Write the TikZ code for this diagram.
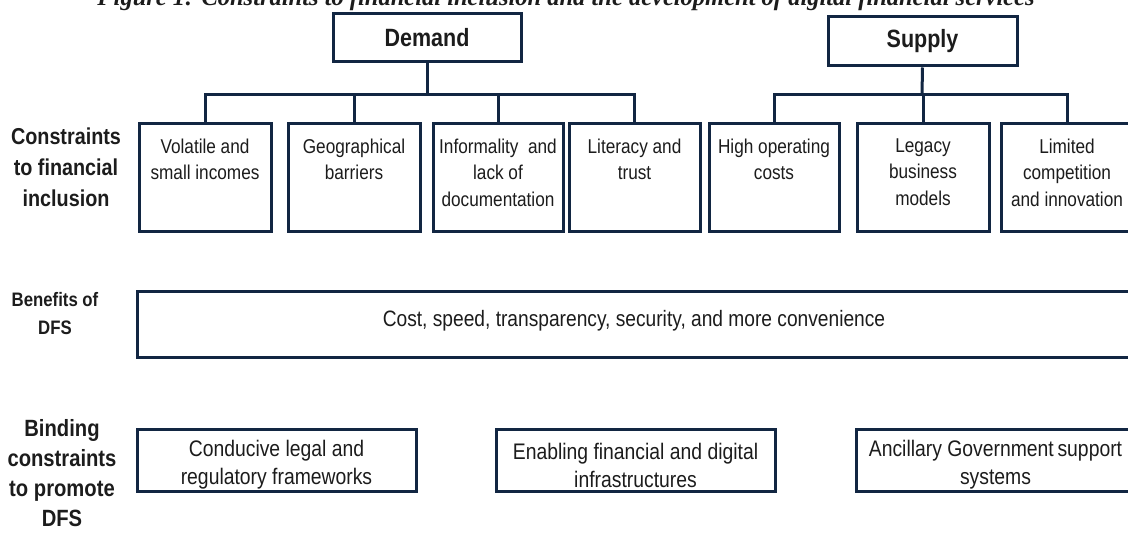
\documentclass[tikz,border=0pt]{standalone}
\usepackage{fontspec}
\setmainfont{Liberation Sans}
\newfontfamily\narrowsans[FakeStretch=0.86]{Liberation Sans}
\newfontfamily\titleserif{Liberation Serif}
\usetikzlibrary{positioning}
\definecolor{navy}{RGB}{18,38,66}
\definecolor{ink}{RGB}{28,28,28}

\begin{document}
\begin{tikzpicture}[x=1pt,y=-1pt,
  frame/.style={draw=navy, line width=3pt, fill=white, inner sep=0pt},
  head/.style={frame, text=ink, font=\narrowsans\bfseries\fontsize{25}{28}\selectfont},
  cbox/.style={frame, minimum height=108pt},
  ctext/.style={anchor=north, align=center, inner sep=0pt, text=ink,
                font=\narrowsans\fontsize{20}{26.5}\selectfont},
  bbox/.style={frame, minimum width=279pt, minimum height=62pt},
  btext/.style={align=center, inner sep=0pt, text=ink,
               font=\narrowsans\fontsize{22.5}{28}\selectfont},
  rowlabel/.style={align=center, inner sep=0pt, text=ink},
  link/.style={draw=navy, line width=3pt}
]
\useasboundingbox (0,0) rectangle (1128,534);
\fill[white] (0,0) rectangle (1128,534);
\clip (0,0) rectangle (1128,534);

% caption, partly above the page edge
\node[anchor=base, inner sep=0pt, text=ink,
      font=\titleserif\bfseries\itshape\fontsize{24.5}{28}\selectfont] (title) at (566,6)
  {Figure 1: Constraints to financial inclusion and the development of digital financial services};

% heads
\node[head, minimum width=188pt, minimum height=48pt] (demand) at (427,38) {Demand};
\node[head, minimum width=189pt, minimum height=49pt] (supply) at (922.5,41.5) {Supply};

% constraint boxes
\node[cbox, minimum width=132pt] (vol)  at (205,178) {};
\node[cbox, minimum width=132pt] (geo)  at (354,178) {};
\node[cbox, minimum width=130pt] (inf)  at (498,178) {};
\node[cbox, minimum width=131pt] (lit)  at (634.5,178) {};
\node[cbox, minimum width=130pt] (high) at (774,178) {};
\node[cbox, minimum width=132pt] (leg)  at (923,178) {};
\node[cbox, minimum width=132pt] (lim)  at (1067,178) {};

\node[ctext, below=16pt of vol.north]  (vol-t)  {Volatile and\\small incomes};
\node[ctext, below=16pt of geo.north]  (geo-t)  {Geographical\\barriers};
\node[ctext, below=16pt of inf.north]  (inf-t)  {Informality\ \ and\\lack of\\documentation};
\node[ctext, below=16pt of lit.north]  (lit-t)  {Literacy and\\trust};
\node[ctext, below=16pt of high.north] (high-t) {High operating\\costs};
\node[ctext, below=16pt of leg.north]  (leg-t)  {Legacy\\business\\models};
\node[ctext, below=16pt of lim.north]  (lim-t)  {Limited\\competition\\and innovation};

% tree connectors
\coordinate (dbar) at (427,95);
\coordinate (sbar) at (922,95);
\draw[link] (demand.south) -- (dbar);
\draw[link] (vol.north) -- (vol.north |- dbar) -- (lit.north |- dbar) -- (lit.north);
\draw[link] (geo.north) -- (geo.north |- dbar);
\draw[link] (inf.north) -- (inf.north |- dbar);
\draw[link] (supply.south) -- (sbar);
\draw[link] (high.north) -- (high.north |- sbar) -- (lim.north |- sbar) -- (lim.north);
\draw[link] (leg.north) -- (leg.north |- sbar);

% benefits
\node[frame, minimum width=1008pt, minimum height=66pt] (ben) at (641,325) {};
\node[inner sep=0pt, text=ink, font=\narrowsans\fontsize{22.3}{26}\selectfont] (ben-t) at (634,321)
  {Cost, speed, transparency, security, and more convenience};

% binding constraints
\node[bbox] (cond) at (276.5,461) {};
\node[bbox] (enab) at (635.5,461) {};
\node[bbox] (anc)  at (995.5,461) {};
\node[btext, below=4pt of cond.center, anchor=center] (cond-t) {Conducive legal and\\regulatory frameworks};
\node[btext, below=4pt of enab.center, anchor=center] (enab-t) {Enabling financial and digital\\infrastructures};
\node[btext, below=4pt of anc.center,  anchor=center] (anc-t)  {Ancillary Government\,support\\systems};

% row labels
\node[rowlabel, font=\narrowsans\bfseries\fontsize{23}{31}\selectfont] (lab1) at (66,167)
  {Constraints\\to financial\\inclusion};
\node[rowlabel, font=\narrowsans\bfseries\fontsize{19.5}{28}\selectfont] (lab2) at (55,314)
  {Benefits of\\DFS};
\node[rowlabel, font=\narrowsans\bfseries\fontsize{23.5}{30}\selectfont] (lab3) at (62,473)
  {Binding\\constraints\\to promote\\DFS};
\end{tikzpicture}
\end{document}
